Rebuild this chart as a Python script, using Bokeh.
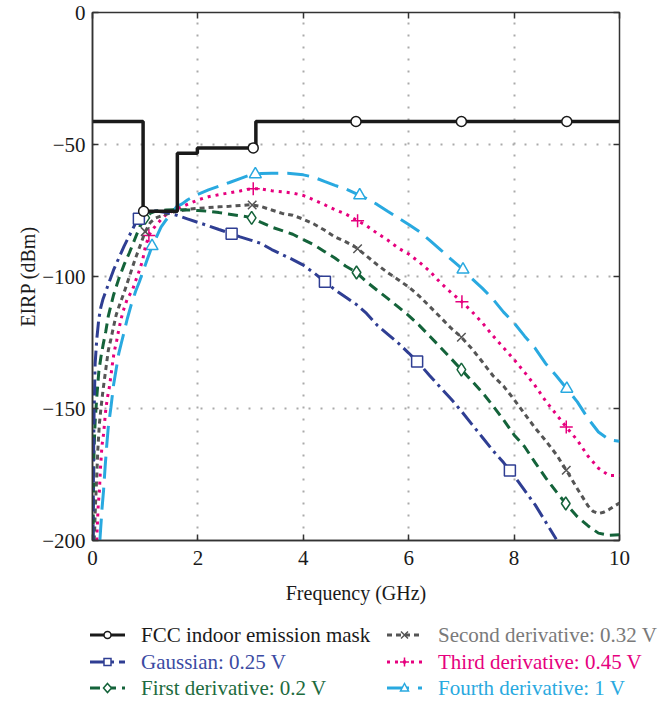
import numpy as np
from bokeh.plotting import figure
from bokeh.layouts import column
from bokeh.models import LinearAxis, Div
from bokeh.embed import file_html
from bokeh.resources import INLINE

# ---------------- data ----------------
x_ticks = [0, 2, 4, 6, 8, 10]
y_ticks = [-200, -150, -100, -50, 0]
y_tick_labels = ["\u2212200", "\u2212150", "\u2212100", "\u221250", "0"]

mask_f = [0.0, 0.96, 0.96, 1.61, 1.61, 1.99, 1.99, 3.1, 3.1, 10.6]
mask_db = [-41.3, -41.3, -75.3, -75.3, -53.3, -53.3, -51.3, -51.3, -41.3, -41.3]
mask_mark_f = [0.97, 3.05, 5.0, 7.0, 9.0]
mask_mark_db = [-75.3, -51.3, -41.3, -41.3, -41.3]

gauss_f = [0.01, 0.02, 0.03, 0.05, 0.08, 0.12, 0.16, 0.2, 0.3, 0.4, 0.5, 0.6, 0.7, 0.8, 0.9,
           1.0, 1.1, 1.2, 1.4, 1.6, 1.8, 2.0, 2.2, 2.4, 2.64, 2.8, 3.0, 3.2, 3.4, 3.6, 3.8,
           4.0, 4.2, 4.4, 4.6, 4.8, 5.0, 5.2, 5.4, 5.6, 5.8, 6.0, 6.2, 6.4, 6.6, 6.8, 7.0,
           7.2, 7.4, 7.6, 7.8, 8.0, 8.2, 8.4, 8.6, 8.8]
gauss_db = [-200, -170, -152, -133, -124, -116, -111.5, -108.5, -103, -97.5, -93, -88.5, -84.5, -80.5, -77.5,
            -76, -75.3, -75.2, -75.8, -76.8, -78.2, -79.5, -80.8, -82.2, -83.8, -85, -86.2, -87.5, -89.8, -91.7, -93.6,
            -95.7, -98.6, -101.8, -105, -107.8, -110.5, -114, -118.4, -121.8, -125.2, -129, -133, -137.6, -142, -146.3, -151,
            -156, -161, -166, -170.5, -175.5, -181, -186.5, -193, -199.5]
gauss_mark_f = [0.88, 2.64, 4.41, 6.16, 7.92]

d1_f = [0.01, 0.02, 0.03, 0.05, 0.08, 0.12, 0.16, 0.2, 0.25, 0.3, 0.4, 0.5, 0.6, 0.7, 0.8, 0.9,
        1.0, 1.1, 1.2, 1.4, 1.6, 1.8, 2.0, 2.2, 2.4, 2.6, 2.8, 3.0, 3.2, 3.4, 3.6, 3.8,
        4.0, 4.2, 4.4, 4.6, 4.8, 5.0, 5.2, 5.4, 5.6, 5.8, 6.0, 6.2, 6.4, 6.6, 6.8, 7.0,
        7.2, 7.4, 7.6, 7.8, 8.0, 8.2, 8.4, 8.6, 8.8, 9.0, 9.2, 9.4, 9.6, 9.8, 10.0]
d1_db = [-200, -180, -165, -155, -146, -136, -130.5, -126, -121, -115, -107, -100.8, -95.5, -91, -86, -81,
         -77.8, -76, -75.2, -74.8, -74.7, -74.8, -75, -75.3, -75.8, -76.4, -77, -77.6, -79.5, -81.3, -82.6, -84,
         -86, -88, -90.5, -93, -96, -98.3, -102, -105.2, -108.3, -111.5, -114.8, -118.5, -122.6, -126.8, -131, -135.3,
         -139.6, -144, -149, -154.3, -160, -164.5, -170.5, -176.3, -181.5, -186.5, -191, -194.4, -197.2, -198, -197.8]
d1_mark_f = [1.0, 3.02, 5.01, 7.0, 8.98]

d2_f = [0.03, 0.04, 0.05, 0.06, 0.08, 0.1, 0.13, 0.16, 0.2, 0.25, 0.3, 0.35, 0.4, 0.45, 0.5, 0.6, 0.7, 0.8, 0.9,
        1.0, 1.1, 1.2, 1.4, 1.6, 1.8, 2.0, 2.2, 2.4, 2.6, 2.8, 3.0, 3.2, 3.4, 3.6, 3.8,
        4.0, 4.2, 4.4, 4.6, 4.8, 5.0, 5.2, 5.4, 5.6, 5.8, 6.0, 6.2, 6.4, 6.6, 6.8, 7.0,
        7.2, 7.4, 7.6, 7.8, 8.0, 8.2, 8.4, 8.6, 8.8, 9.0, 9.2, 9.4, 9.5, 9.6, 9.7, 9.8, 9.9, 10.0]
d2_db = [-200, -197, -190, -185, -176, -166, -156, -150, -143, -135.5, -128, -123.6, -119, -114.5, -111.5, -106, -100, -94, -88.5,
         -83, -79.5, -77.8, -76.4, -75.3, -74.6, -74.2, -73.9, -73.6, -73.4, -73.1, -72.8, -73.5, -74.8, -76.1, -76.8,
         -78.3, -80.1, -82.4, -85, -86.8, -89, -92.2, -95.5, -98.5, -101.2, -104, -107.4, -111.4, -115.4, -119.5, -123,
         -127.4, -132.4, -137.6, -141.5, -146.6, -152, -157.4, -162.2, -167.4, -173.7, -180.4, -186.8, -189, -189.8, -189.3, -188.3, -187, -185.8]
d2_mark_f = [1.0, 3.03, 5.03, 7.0, 8.99]

d3_f = [0.08, 0.09, 0.1, 0.11, 0.13, 0.15, 0.18, 0.21, 0.23, 0.25, 0.28, 0.32, 0.35, 0.38, 0.41, 0.46, 0.5, 0.55,
        0.6, 0.66, 0.76, 0.82, 0.89, 0.95, 1.0, 1.07, 1.11, 1.2, 1.3, 1.4, 1.6, 1.8, 2.0, 2.2, 2.4, 2.6, 2.8, 3.0,
        3.2, 3.4, 3.6, 3.8, 4.0, 4.2, 4.4, 4.6, 4.8, 5.0, 5.2, 5.4, 5.6, 5.8, 6.0, 6.2, 6.4, 6.6, 6.8, 7.0,
        7.2, 7.4, 7.6, 7.8, 8.0, 8.2, 8.4, 8.6, 8.8, 9.0, 9.2, 9.4, 9.6, 9.8, 10.0]
d3_db = [-200, -195, -190.5, -186, -181.7, -173, -164, -159.6, -155.2, -150.8, -146.3, -141.9, -137.5, -132.8, -128.7, -124.2, -120, -115.5,
         -112, -108.5, -105, -101.5, -97.7, -93.9, -89, -84.5, -83, -80.7, -78.5, -76.5, -74.5, -72.7, -71, -69.8, -69, -68.3, -67.6, -66.8,
         -66.8, -67.5, -67.9, -68.4, -69.3, -71, -72.8, -74.7, -76.3, -78.5, -80.8, -83.6, -86.2, -89.2, -91.5, -94.5, -98, -102.3, -106, -109.4,
         -113.3, -117.6, -122.5, -127, -131.5, -136.3, -141.4, -147.2, -152.2, -157.3, -162, -168, -172.6, -175.4, -175.4]
d3_mark_f = [1.07, 3.05, 5.03, 7.01, 8.99]

d4_f = [0.14, 0.18, 0.21, 0.24, 0.27, 0.3, 0.35, 0.4, 0.45, 0.5, 0.55, 0.6, 0.66, 0.73, 0.82, 0.89, 0.95,
        1.04, 1.13, 1.2, 1.3, 1.4, 1.5, 1.6, 1.7, 1.8, 1.95, 2.2, 2.4, 2.6, 2.8, 3.0, 3.2, 3.4, 3.7,
        4.0, 4.2, 4.4, 4.6, 4.8, 5.0, 5.2, 5.4, 5.6, 5.8, 6.0, 6.2, 6.4, 6.6, 6.8, 7.0,
        7.2, 7.4, 7.6, 7.8, 8.0, 8.2, 8.4, 8.6, 8.8, 9.0, 9.2, 9.4, 9.6, 9.8, 10.0]
d4_db = [-200, -188, -181, -172, -164, -157, -149.5, -141, -135, -129, -125, -121, -116, -111, -105.5, -102, -98.5,
         -93.5, -88.5, -85.7, -81.3, -78.5, -76, -73.5, -72.5, -71, -69.3, -67.2, -65.8, -64.4, -62.9, -61.5, -61, -60.9, -60.9,
         -61.5, -62.4, -64, -65.5, -66.8, -68.6, -70.5, -72.7, -75.3, -77.8, -80.3, -83, -86.3, -89.8, -93.4, -96.8,
         -100.8, -104.5, -108.6, -113.5, -117.6, -122.6, -127.2, -133, -137.6, -142.5, -147.5, -153.7, -158.9, -161.8, -162.4]
d4_mark_f = [1.13, 3.09, 5.07, 7.03, 9.0]

series_names = ["FCC indoor emission mask", "Gaussian: 0.25 V", "First derivative: 0.2 V",
                "Second derivative: 0.32 V", "Third derivative: 0.45 V", "Fourth derivative: 1 V"]

# ---------------- styles ----------------
FONT = "Liberation Serif"
C_MASK = "#1a1a1a"
C_G = "#2f3e93"
C_D1 = "#14633a"
C_D2 = "#555555"
C_D3 = "#e6007e"
C_D4 = "#29a9e0"
TEXT_COLORS = ["#1a1a1a", "#3b4ba3", "#1d6b3e", "#7a7a7a", C_D3, C_D4]

STYLES = [  # color, dash, marker, size
    (C_MASK, "solid", "circle", 10),
    (C_G, "16 5 3 5", "square", 11),
    (C_D1, "10 6", "diamond", 13),
    (C_D2, "5 4", "x", 12),
    (C_D3, "3 5", "cross", 13),
    (C_D4, "22 9", "triangle", 12),
]
LW = 3

W_LEFT, W_TOP, FW, FH, W_RIGHT, W_BOTTOM = 92, 12, 527, 528, 40, 70

p = figure(output_backend="svg", toolbar_location=None,
           frame_width=FW, frame_height=FH,
           x_range=(0, 10), y_range=(-200, 0),
           min_border_left=W_LEFT, min_border_right=W_RIGHT,
           min_border_top=W_TOP, min_border_bottom=W_BOTTOM,
           background_fill_color="white", border_fill_color="white")

p.outline_line_color = "#333333"
p.outline_line_width = 1.5

for ax in (p.xaxis, p.yaxis):
    ax.axis_line_color = "#333333"
    ax.axis_line_width = 1.5
    ax.major_tick_in = 6
    ax.major_tick_out = 0
    ax.major_tick_line_color = "#333333"
    ax.major_tick_line_width = 1.5
    ax.minor_tick_line_color = None
    ax.major_label_text_font = FONT
    ax.major_label_text_font_size = "21px"
    ax.major_label_text_color = "#1a1a1a"
    ax.axis_label_text_font = FONT
    ax.axis_label_text_font_size = "20px"
    ax.axis_label_text_font_style = "normal"
    ax.axis_label_text_color = "#1a1a1a"

p.xaxis.ticker = x_ticks
p.yaxis.ticker = y_ticks
p.yaxis.major_label_overrides = {t: s for t, s in zip(y_ticks, y_tick_labels)}
p.xaxis.axis_label = "Frequency (GHz)"
p.yaxis.axis_label = "EIRP (dBm)"
p.xaxis.major_label_standoff = 10
p.xaxis.axis_label_standoff = 14
p.yaxis.major_label_standoff = 7
p.yaxis.axis_label_standoff = 0

for loc, tk in (("right", y_ticks), ("above", x_ticks)):
    ax = LinearAxis(ticker=tk, major_label_text_font_size="1px", major_label_standoff=0,
                    major_label_overrides={t: "" for t in tk},
                    axis_line_color=None, major_tick_in=6, major_tick_out=0,
                    major_tick_line_color="#333333", major_tick_line_width=1.5,
                    minor_tick_line_color=None)
    p.add_layout(ax, loc)

for g in (p.xgrid, p.ygrid):
    g.grid_line_color = "#aaaaaa"
    g.grid_line_width = 2
    g.grid_line_dash = "2 10"

curves = [
    (mask_f, mask_db, mask_mark_f, mask_mark_db),
    (gauss_f, gauss_db, gauss_mark_f, None),
    (d1_f, d1_db, d1_mark_f, None),
    (d2_f, d2_db, d2_mark_f, None),
    (d3_f, d3_db, d3_mark_f, None),
    (d4_f, d4_db, d4_mark_f, None),
]

# draw back to front: fourth derivative first, mask last
for i in [5, 4, 3, 2, 1, 0]:
    f, db, mf, mdb = curves[i]
    color, dash, marker, msize = STYLES[i]
    if mdb is None:
        mdb = list(np.interp(mf, f, db))
    p.line(f, db, line_color=color, line_width=(3.5 if i == 0 else LW), line_dash=dash)
    p.scatter(mf, mdb, marker=marker, size=msize, line_color=color, line_width=1.5,
              fill_color="white")

# ---------------- legend (HTML key below the plot) ----------------
def key_svg(color, dash, marker):
    da = "" if dash == "solid" else f' stroke-dasharray="{dash}"'
    s = f'<line x1="0" y1="10" x2="35" y2="10" stroke="{color}" stroke-width="3"{da}/>'
    common = f'fill="white" stroke="{color}" stroke-width="1.5"'
    if marker == "circle":
        s += f'<circle cx="17.5" cy="10" r="3.5" {common}/>'
    elif marker == "square":
        s += f'<rect x="14" y="6.5" width="7" height="7" {common}/>'
    elif marker == "diamond":
        s += f'<polygon points="17.5,5.5 21.5,10 17.5,14.5 13.5,10" {common}/>'
    elif marker == "x":
        s += f'<path d="M14,6.5 L21,13.5 M21,6.5 L14,13.5" {common}/>'
    elif marker == "cross":
        s += f'<path d="M17.5,5.5 V14.5 M13,10 H22" {common}/>'
    elif marker == "triangle":
        s += f'<polygon points="17.5,5.5 21.5,13 13.5,13" {common}/>'
    return f'<svg width="35" height="20" style="display:block;flex:none">{s}</svg>'

LEG_H = 91
col_x = [90, 387]
row_top = [13, 40, 66]
items_html = ""
for i, name in enumerate(series_names):
    color, dash, marker, _ = STYLES[i]
    c, r = (0, i) if i < 3 else (1, i - 3)
    items_html += (
        f'<div style="position:absolute;left:{col_x[c]}px;top:{row_top[r]}px;height:24px;'
        f'display:flex;align-items:center;white-space:nowrap;">'
        f'{key_svg(color, dash, marker)}'
        f'<span style="margin-left:16px;color:{TEXT_COLORS[i]};">{name}</span></div>'
    )
html = (f'<div style="position:relative;width:{W_LEFT + FW + W_RIGHT}px;height:{LEG_H}px;'
        f'font-family:\'{FONT}\';font-size:21px;line-height:24px;">{items_html}</div>')
legend_div = Div(text=html, width=W_LEFT + FW + W_RIGHT, height=LEG_H, margin=0)

layout = column(p, legend_div, spacing=0)
open("out.html", "w").write(file_html(layout, INLINE))
